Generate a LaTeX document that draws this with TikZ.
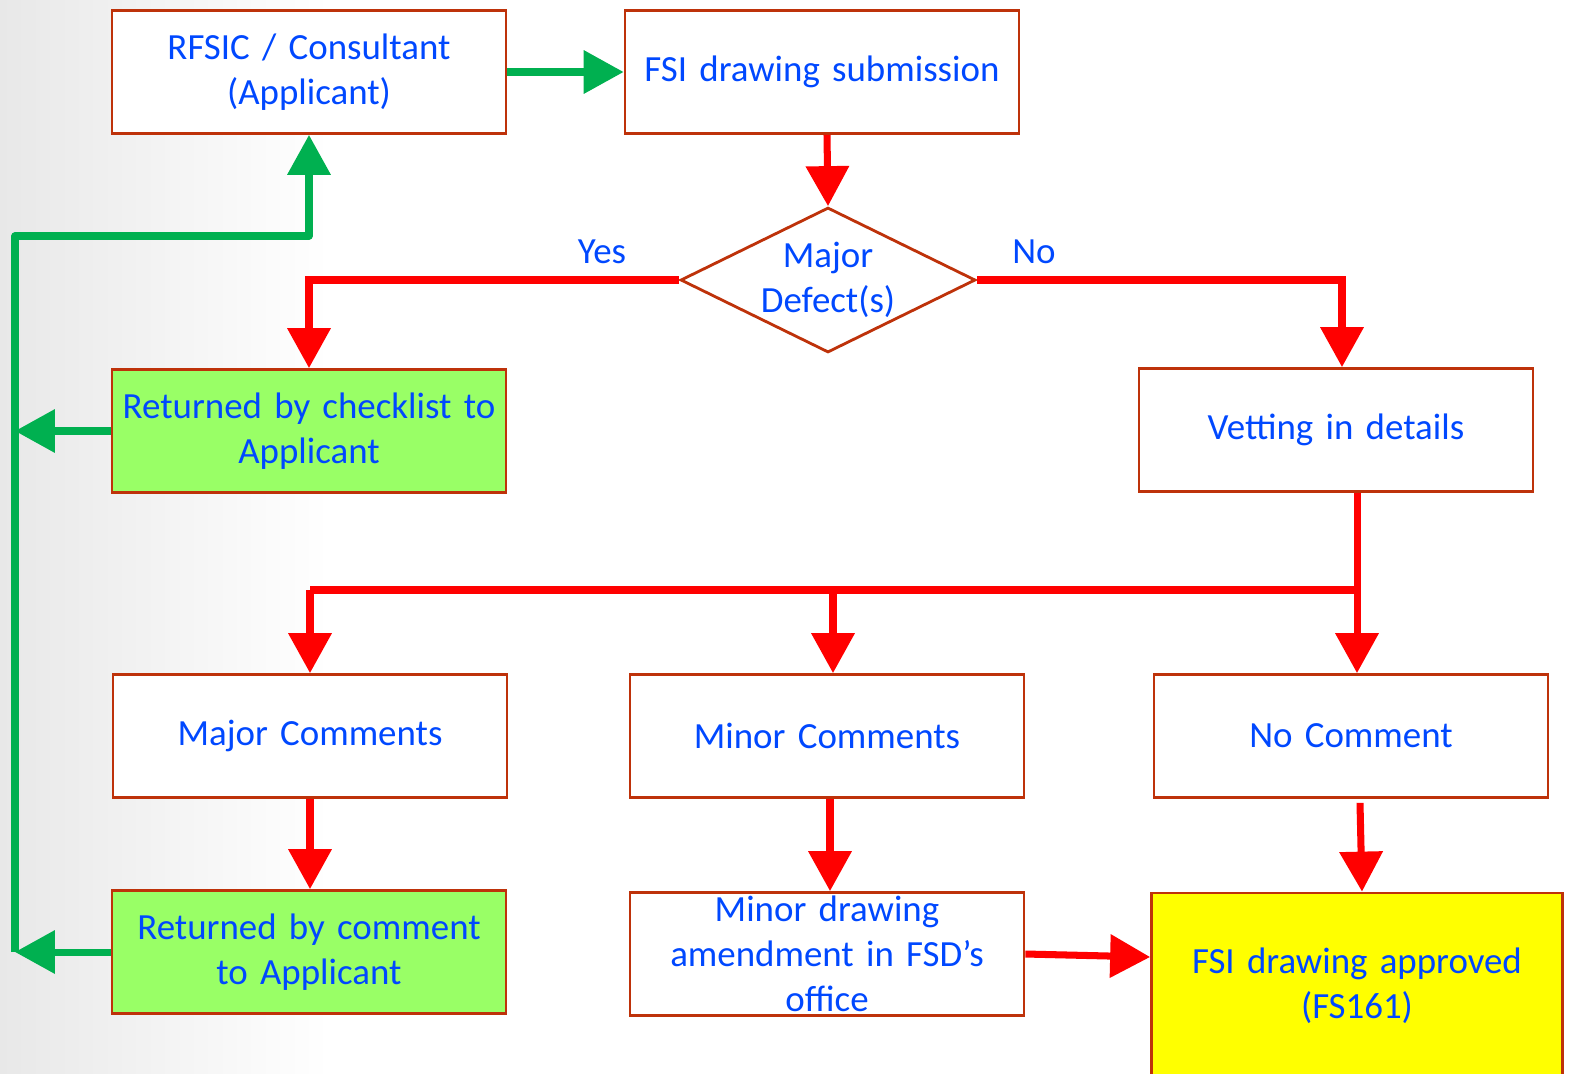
\documentclass[tikz,border=0pt]{standalone}
\usepackage{fontspec}
\setmainfont{Carlito}[WordSpace=0.85]
\usepackage{tikz}
\usetikzlibrary{calc,arrows.meta,shapes.geometric,positioning}
\tikzstyle{box}=[draw=myborder,line width=1.6pt,fill=white,minimum width=7.88cm,minimum height=2.46cm,text width=7.6cm,inner sep=0pt,align=center,text=myblue,font=\fontsize{21}{25.5}\selectfont]
\tikzstyle{decision}=[diamond,aspect=2,draw=myborder,line width=1.6pt,fill=white,minimum width=5.9cm,minimum height=2.9cm,inner sep=0pt,align=center,text=myblue,font=\fontsize{21}{25.5}\selectfont]
\tikzstyle{tag}=[text=myblue,font=\fontsize{21}{25.5}\selectfont]
\tikzstyle{rline}=[draw=myred,line width=4pt]
\tikzstyle{rarrow}=[rline,-{Triangle[length=0.8cm,width=0.84cm]}]
\tikzstyle{gline}=[draw=mygreen,line width=4pt,line join=round]
\tikzstyle{garrow}=[gline,-{Triangle[length=0.8cm,width=0.84cm]}]
\definecolor{myborder}{RGB}{190,50,10}
\definecolor{myblue}{RGB}{0,72,255}
\definecolor{myred}{RGB}{255,0,0}
\definecolor{mygreen}{RGB}{0,176,80}
\definecolor{mylime}{RGB}{153,255,102}
\definecolor{myyellow}{RGB}{255,255,0}

\begin{document}
\begin{tikzpicture}[x=0.02cm,y=-0.02cm]
\useasboundingbox (0,0) rectangle (1569,1073);
\clip (0,0) rectangle (1569,1073);
% faded photo on the left
\fill[left color=black!9,right color=white] (0,0) rectangle (330,1073);
\draw (309, 72) node [box] (rfsic) {RFSIC / Consultant\\(Applicant)};
\draw (822, 72) node [box] (submit) {FSI drawing submission};
\draw (828, 280) node [decision] (defect) {Major\\Defect(s)};
\draw (309, 431) node [box,fill=mylime] (checklist) {Returned by checklist to\\Applicant};
\draw (1336, 430) node [box] (vetting) {Vetting in details};
\draw (310, 736) node [box] (major) {Major Comments};
\draw (827, 736) node [box] (minor) {Minor Comments};
\draw (1351, 736) node [box] (nocomment) {No Comment};
\draw (309, 952) node [box,fill=mylime] (retcomment) {Returned by comment\\to Applicant};
\draw (827, 954) node [box] (amend) {Minor drawing\\amendment in FSD's\\office};
\draw (1357, 986) node [box,fill=myyellow,minimum width=8.22cm,minimum height=3.72cm] (approved) {FSI drawing approved\\(FS161)};
\draw (602, 252) node [tag] (yes) {Yes};
\draw (1034, 252) node [tag] (no) {No};
\coordinate (split) at (1357, 590);
\coordinate (bus) at (15, 952);
\coordinate (bustop) at (15, 236);
% main flow
\draw[garrow] (rfsic) -- (submit);
\draw[rarrow] ([xshift=0.1cm]submit.south) -- (defect.north);
\draw[rarrow] (defect.west) -| (checklist.north);
\draw[rarrow] (defect.east) -| ([xshift=0.12cm]vetting.north);
\draw[rline] (split |- vetting.south) -- (split) -- (split -| major.north);
\draw[rarrow] (split) -- (split |- nocomment.north);
\draw[rarrow] ([xshift=0.12cm]minor.north |- split) -- ([xshift=0.12cm]minor.north);
\draw[rarrow] (major.north |- split) -- (major.north);
\draw[rarrow] (major.south) -- (major.south |- retcomment.north);
\draw[rarrow] ([xshift=0.06cm]minor.south) -- ([xshift=0.06cm]amend.north);
\draw[rarrow] ([xshift=0.18cm,yshift=-0.08cm]nocomment.south) -- ([xshift=0.1cm]approved.north);
\draw[rarrow] (amend.east) -- ([yshift=-0.06cm]amend.east -| approved.west);
% back to the applicant
\draw[garrow] (checklist.west) -- (checklist.west -| bus);
\draw[garrow] (retcomment.west) -- (bus);
\draw[garrow] (bus) -- (bustop) -| (rfsic.south);
\end{tikzpicture}
\end{document}
